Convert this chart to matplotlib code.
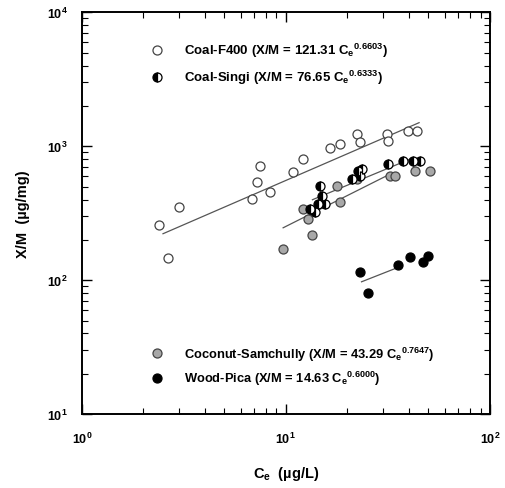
import matplotlib
matplotlib.use("Agg")
import matplotlib.pyplot as plt
import numpy as np

plt.rcParams['font.family'] = ['Liberation Sans', 'DejaVu Sans']
plt.rcParams['font.weight'] = 'bold'
plt.rcParams['mathtext.fontset'] = 'custom'
plt.rcParams['mathtext.rm'] = 'Liberation Sans:bold'
plt.rcParams['mathtext.it'] = 'Liberation Sans:bold'
plt.rcParams['mathtext.bf'] = 'Liberation Sans:bold'

# ---- data ----
f400_x = [2.38, 2.64, 2.99, 6.8, 7.2, 7.46, 8.35, 10.8, 12.1, 16.4, 18.4, 22.3, 23.1, 31.3, 31.6, 39.6, 43.9]
f400_y = [257, 146, 351, 402, 538, 709, 454, 640, 800, 966, 1035, 1230, 1072, 1230, 1089, 1295, 1295]

singi_x = [13.1, 13.9, 14.4, 14.7, 15.0, 15.5, 21.1, 22.5, 23.1, 23.6, 31.6, 37.4, 41.9, 45.3]
singi_y = [339, 322, 369, 502, 423, 369, 567, 650, 597, 673, 735, 773, 773, 773]

coco_x = [9.7, 12.2, 12.8, 13.5, 17.9, 18.4, 22.3, 32.3, 34.2, 42.8, 50.8]
coco_y = [170, 339, 285, 217, 502, 382, 567, 597, 597, 650, 650]

wood_x = [23.0, 25.2, 35.4, 40.5, 47.0, 49.7]
wood_y = [115, 80, 129, 149, 136, 151]

# Freundlich fits: X/M = K * Ce^n
fit_K = [121.31, 76.65, 43.29, 14.63]
fit_n = [0.6603, 0.6333, 0.7647, 0.6000]
fit_xmin = [2.5, 13.5, 9.7, 23.5]
fit_xmax = [45.0, 42.0, 33.0, 36.0]

labels = ['Coal-F400', 'Coal-Singi', 'Coconut-Samchully', 'Wood-Pica']

fig = plt.figure(figsize=(5.05, 4.89), dpi=100)
ax = fig.add_axes([0.162, 0.151, 0.808, 0.822])
ax.set_xscale('log')
ax.set_yscale('log')
ax.set_xlim(1, 100)
ax.set_ylim(10, 10000)

ms = 6.5
# fit lines
for K, n, x0, x1 in zip(fit_K, fit_n, fit_xmin, fit_xmax):
    xx = np.logspace(np.log10(x0), np.log10(x1), 50)
    ax.plot(xx, K * xx ** n, color='#555555', lw=0.9, zorder=1)

ax.plot(f400_x, f400_y, 'o', ms=ms, mfc='white', mec='#444444', mew=0.9, zorder=2)
ax.plot(coco_x, coco_y, 'o', ms=ms, mfc='#a8a8a8', mec='#444444', mew=0.9, zorder=3)
ax.plot(singi_x, singi_y, 'o', ms=ms, fillstyle='left', mfc='black', mfcalt='white',
        mec='black', mew=0.9, zorder=4)
ax.plot(wood_x, wood_y, 'o', ms=ms, mfc='black', mec='black', mew=0.9, zorder=5)

# legend entries (manual)
def entry(x_ax, y_ax, style, text, fs):
    ax.plot([x_ax], [y_ax], 'o', transform=ax.transAxes, clip_on=False, ms=ms, **style)
    ax.text(x_ax + 0.066, y_ax, text, transform=ax.transAxes, fontsize=fs,
            fontweight='bold', va='center', ha='left')

def eq(name, K, n):
    return f'{name} (X/M = {K:.2f} C$_e$$^{{{n:.4f}}}$)'

entry(0.184, 0.905, dict(mfc='white', mec='#444444', mew=0.9), eq(labels[0], fit_K[0], fit_n[0]), 9.5)
entry(0.184, 0.838, dict(fillstyle='left', mfc='black', mfcalt='white', mec='black', mew=0.9),
      eq(labels[1], fit_K[1], fit_n[1]), 9.5)
entry(0.184, 0.151, dict(mfc='#a8a8a8', mec='#444444', mew=0.9), eq(labels[2], fit_K[2], fit_n[2]), 9.3)
entry(0.184, 0.089, dict(mfc='black', mec='black', mew=0.9), eq(labels[3], fit_K[3], fit_n[3]), 9.3)

ax.set_xlabel('C$_e$  (µg/L)', fontsize=10.5, fontweight='bold', labelpad=13)
ax.set_ylabel('X/M  (µg/mg)', fontsize=10.5, fontweight='bold', labelpad=12)

for s in ax.spines.values():
    s.set_linewidth(1.4)
ax.tick_params(which='both', direction='in', top=True, right=True, labelsize=9)
ax.tick_params(which='major', length=7, width=1.0)
ax.tick_params(which='minor', length=4, width=0.8)
ax.tick_params(axis='x', pad=12)
ax.tick_params(axis='y', pad=10)

fig.savefig('out.png', dpi=100)
